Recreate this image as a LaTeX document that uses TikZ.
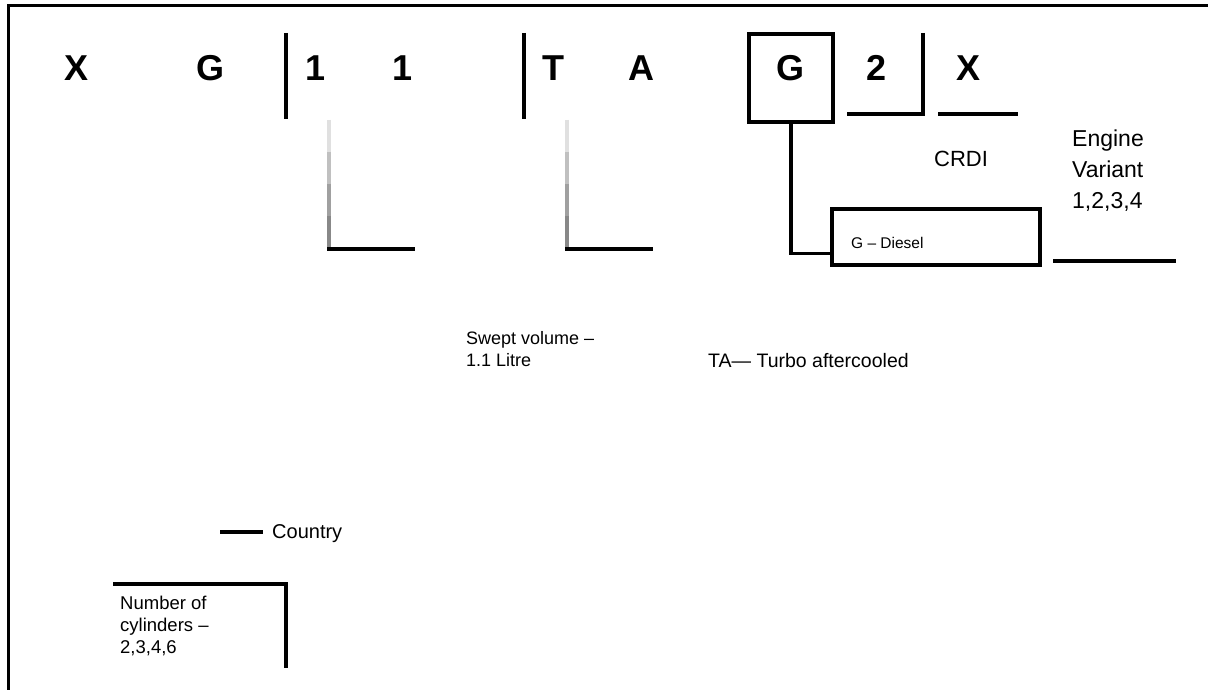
\documentclass[tikz,border=0pt]{standalone}
\usepackage{fontspec}
\setmainfont{Liberation Sans}
\begin{document}
\begin{tikzpicture}[x=1pt,y=-1pt,
  frameline/.style={line width=3pt},
  rule/.style={line width=3.5pt},
  big/.style={font=\fontsize{36}{36}\selectfont\bfseries, inner sep=0pt, anchor=base},
  evlbl/.style={font=\fontsize{23}{31}\selectfont, inner sep=0pt, anchor=base west, align=left},
  lbl/.style={font=\fontsize{18.5}{22}\selectfont, inner sep=0pt, anchor=base west, align=left},
  tinylbl/.style={font=\fontsize{15.5}{18}\selectfont, inner sep=0pt, anchor=base west},
  boxnode/.style={draw, rule, inner sep=0pt},
]
\useasboundingbox (0,0) rectangle (1208,690);
\fill[white] (0,0) rectangle (1208,690);

% frame
\coordinate (ftr) at (1212,6);
\coordinate (ftl) at (8,6);
\coordinate (fbl) at (8,694);
\draw[frameline] (ftr) -- (ftl) -- (fbl);

% top code letters
\node[big] (lx1) at (77,81) {X};
\node[big] (lg1) at (210,81) {G};
\node[big] (l11) at (316,81) {1};
\node[big] (l12) at (403,81) {1};
\node[big] (lt) at (553,81) {T};
\node[big] (la) at (641,81) {A};
\node[boxnode, minimum width=84pt, minimum height=88pt] (gbox) at (791,78) {};
\node[big] (lg2) at (790,81) {G};
\node[big] (l2) at (877,81) {2};
\node[big] (lx2) at (968,81) {X};

% separators
\coordinate (s1a) at (286,33); \coordinate (s1b) at (286,119);
\coordinate (s2a) at (524,33); \coordinate (s2b) at (524,119);
\draw[rule] (s1a) -- (s1b);
\draw[rule] (s2a) -- (s2b);

% under 2 and X
\coordinate (u2a) at (923,33); \coordinate (u2b) at (923,114); \coordinate (u2c) at (847,114);
\draw[rule] (u2a) -- (u2b) -- (u2c);
\coordinate (uxa) at (938,114); \coordinate (uxb) at (1018,114);
\draw[rule] (uxa) -- (uxb);

% gradient brackets
\foreach \bx/\nm in {329/ga, 567/gb}{
  \coordinate (\nm0) at (\bx,120);
  \coordinate (\nm1) at (\bx,152);
  \coordinate (\nm2) at (\bx,184);
  \coordinate (\nm3) at (\bx,216);
  \coordinate (\nm4) at (\bx,249);
  \coordinate (\nm5) at (\bx+86,249);
  \draw[line width=4pt, color={rgb,255:red,224;green,224;blue,224}] (\nm0) -- (\nm1);
  \draw[line width=4pt, color={rgb,255:red,192;green,192;blue,192}] (\nm1) -- (\nm2);
  \draw[line width=4pt, color={rgb,255:red,160;green,160;blue,160}] (\nm2) -- (\nm3);
  \draw[line width=4pt, color={rgb,255:red,136;green,136;blue,136}] (\nm3) -- (\nm4);
  \draw[rule] ([xshift=-2pt]\nm4) -- (\nm5);
}

% G description box
\node[boxnode, minimum width=208pt, minimum height=56pt] (gdesc) at (936,237) {};
\node[tinylbl] (gdtext) at (851,248) {G – Diesel};
\draw[rule] (gbox.south) |- (gdesc.189);

% CRDI
\node[font=\fontsize{22}{24}\selectfont, inner sep=0pt, anchor=base west] (crdi) at (934,167) {CRDI};

% Engine variant (base = last line)
\node[evlbl] (ev) at (1072,208) {Engine\\Variant\\1,2,3,4};
\coordinate (eva) at (1053,261); \coordinate (evb) at (1176,261);
\draw[rule] (eva) -- (evb);

% swept volume
\node[lbl, font=\fontsize{18}{22}\selectfont] (sv) at (466,366) {Swept volume –\\1.1 Litre};
% turbo
\node[lbl, font=\fontsize{19.5}{22}\selectfont] (ta) at (708,367) {TA— Turbo aftercooled};

% country
\node[lbl, font=\fontsize{20}{22}\selectfont] (ctry) at (272,538) {Country};
\coordinate (cta) at (220,532);
\draw[rule] (cta) -- ([xshift=-9pt]ctry.west |- cta);

% cylinders
\node[lbl] (cyl) at (120,653) {Number of\\cylinders –\\2,3,4,6};
\coordinate (cya) at (113,584); \coordinate (cyb) at (286,584); \coordinate (cyc) at (286,668);
\draw[rule] (cya) -- (cyb) -- (cyc);
\end{tikzpicture}
\end{document}
